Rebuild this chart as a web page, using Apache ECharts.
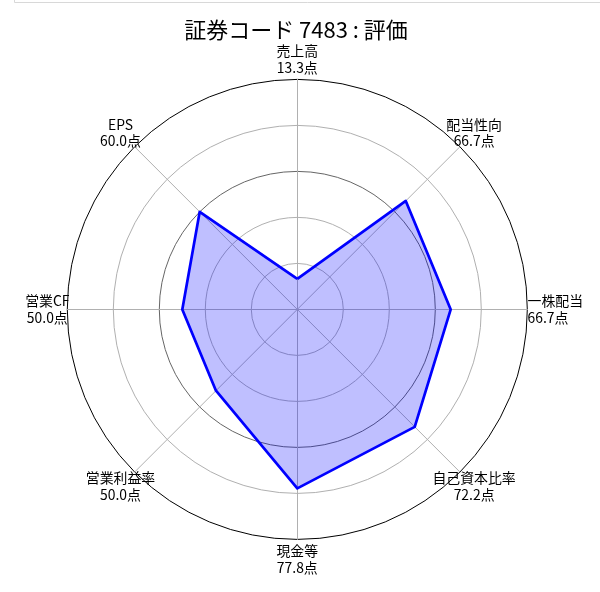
<!DOCTYPE html>
<html>
<head>
<meta charset="utf-8">
<script src="https://cdn.jsdelivr.net/npm/echarts@6/dist/echarts.min.js"></script>
<style>
  html, body { margin: 0; padding: 0; background: #fff; }
  #chart { width: 600px; height: 592px; }
</style>
</head>
<body>
<div id="chart"></div>
<script>
// 指標（上から反時計回り）
var categories = ['売上高', 'EPS', '営業CF', '営業利益率', '現金等', '自己資本比率', '一株配当', '配当性向'];
// 評価点
var scores = [13.3, 60.0, 50.0, 50.0, 77.8, 72.2, 66.7, 66.7];
var maxScore = 100;
var titleText = '証券コード 7483 : 評価';

var myChart = echarts.init(document.getElementById('chart'));

var indicators = categories.map(function (c) {
	return { name: c, max: maxScore, min: 0 };
});

var option = {
	backgroundColor: '#fff',
	animation: false,
	title: {
		text: titleText,
		left: 296,
		top: 19,
		padding: 0,
		textAlign: 'center',
		textStyle: {
			fontFamily: 'Noto Sans CJK JP',
			fontSize: 22,
			fontWeight: 'normal',
			lineHeight: 22,
			color: '#000'
		}
	},
	graphic: [{
		type: 'rect',
		shape: { x: 14.5, y: -10, width: 600, height: 12.5 },
		style: { fill: 'none', stroke: '#d8d8d8', lineWidth: 1 },
		silent: true
	}],
	radar: {
		center: [297.3, 309.4],
		radius: 230,
		startAngle: 90,
		shape: 'circle',
		splitNumber: 5,
		indicator: indicators,
		nameGap: 20,
		axisName: {
			color: '#000',
			fontFamily: 'Noto Sans CJK JP',
			fontSize: 13.9,
			align: 'center',
			verticalAlign: 'middle',
			formatter: function (name) {
				var i = categories.indexOf(name);
				var s = name === '一株配当' ? 'e' : 'n';
				return '{' + s + '|' + name + '}\n{' + s + '|' + scores[i].toFixed(1) + '点}';
			},
			rich: {
				n: { fontFamily: 'Noto Sans CJK JP', fontSize: 13.9, lineHeight: 16.6, align: 'center', color: '#000' },
				e: { fontFamily: 'Noto Sans CJK JP', fontSize: 13.9, lineHeight: 16.6, align: 'left', color: '#000', padding: [0, 0, 0, 16] }
			}
		},
		axisLine: { lineStyle: { color: '#b0b0b0', width: 1 } },
		splitLine: {
			show: true,
			lineStyle: {
				color: ['#b0b0b0', '#b0b0b0', '#b0b0b0', '#666666', '#b0b0b0', '#000000'],
				width: 1
			}
		},
		splitArea: { show: false },
		axisTick: { show: false },
		axisLabel: { show: false }
	},
	series: [{
		type: 'radar',
		symbol: 'none',
		lineStyle: { color: '#0000ff', width: 2.7 },
		areaStyle: { color: '#0000ff', opacity: 0.25 },
		data: [{ value: scores, name: '評価' }]
	}]
};

myChart.setOption(option);
</script>
</body>
</html>
